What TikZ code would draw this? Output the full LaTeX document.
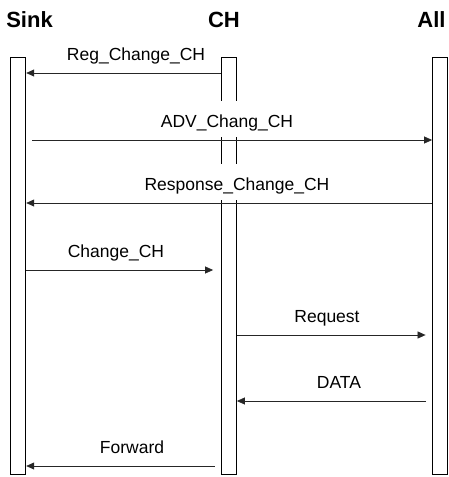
\documentclass[tikz,border=0pt]{standalone}
\usepackage{fontspec}
\setmainfont{Liberation Sans}
\usetikzlibrary{arrows.meta}

\begin{document}
\begin{tikzpicture}[x=1pt, y=-1pt,
        head/.style={font=\fontsize{22}{24}\selectfont\bfseries, anchor=base, inner sep=0pt},
        life/.style={draw, line width=0.8pt, fill=white, minimum width=15pt,
                     minimum height=417pt, inner sep=0pt},
        lbl/.style={fill=white, font=\fontsize{17.5}{19}\selectfont, anchor=base,
                    text height=26pt, text depth=10pt, inner sep=0pt},
        msg/.style={-{Triangle[length=8pt, width=7pt]}, line width=0.7pt, black!85}
      ]
        \useasboundingbox (0,0) rectangle (448,477);
        % participants
        \node[head] (tsink) at (29.5,27) {Sink};
        \node[head] (tch)   at (224,27)  {CH};
        \node[head] (tall)  at (431.5,27) {All};
        \node[life] (sink) at (18.3,265.5) {};
        \node[life] (ch)   at (229,265.5)  {};
        \node[life] (all)  at (440,265.5)  {};
        % labels
        \node[lbl] (l1) at (136,60)  {Reg\_Change\_CH};
        \node[lbl] (l2) at (227,127) {ADV\_Chang\_CH};
        \node[lbl] (l3) at (237,190) {Response\_Change\_CH};
        \node[lbl] (l4) at (116,257) {Change\_CH};
        \node[lbl] (l5) at (327,322) {Request};
        \node[lbl] (l6) at (339,388) {DATA};
        \node[lbl] (l7) at (132,453) {Forward};
        % messages
        \draw[msg] (ch.west |- 0,73) -- (sink.east |- 0,73);
        \draw[msg, shorten <=6pt] (sink.east |- 0,140) -- (all.west |- 0,140);
        \draw[msg] (all.west |- 0,203) -- (sink.east |- 0,203);
        \draw[msg, shorten >=8pt] (sink.east |- 0,270) -- (ch.west |- 0,270);
        \draw[msg, shorten >=6.5pt] (ch.east |- 0,335) -- (all.west |- 0,335);
        \draw[msg, shorten <=6pt] (all.west |- 0,401) -- (ch.east |- 0,401);
        \draw[msg, shorten <=6.5pt] (ch.west |- 0,466) -- (sink.east |- 0,466);
      \end{tikzpicture}
\end{document}
